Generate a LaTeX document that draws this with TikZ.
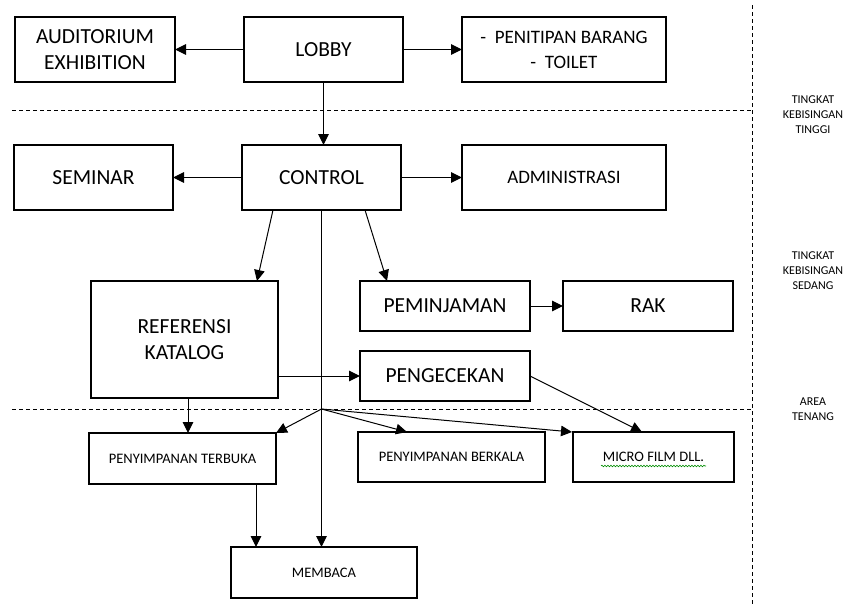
\documentclass[tikz,border=0pt]{standalone}
\usepackage{fontspec}
\setmainfont{Carlito}
\usetikzlibrary{arrows.meta,calc,decorations.pathmorphing}
\tikzset{
  box/.style={draw=black,line width=2pt,inner sep=0pt,outer sep=0pt,align=center,rectangle},
  bigtxt/.style={font=\fontsize{21.5}{25.5}\selectfont},
  midtxt/.style={font=\fontsize{19}{25}\selectfont},
  smalltxt/.style={font=\fontsize{14.5}{17}\selectfont},
  zonetxt/.style={font=\fontsize{12}{15}\selectfont,align=center,inner sep=0pt},
  arr/.style={line width=1pt,-{Triangle[length=11pt,width=10.5pt]}},
  zone/.style={line width=1pt,dash pattern=on 4pt off 3pt}
}
\begin{document}
\begin{tikzpicture}[x=1pt,y=-1pt]
\useasboundingbox (0,0) rectangle (847,605);
% zone separators
\coordinate (h1a) at (12,110);
\coordinate (h1b) at (752,110);
\coordinate (h2a) at (12,409);
\coordinate (h2b) at (752,409);
\coordinate (vta) at (752,5);
\coordinate (vtb) at (752,605);
\draw[zone] (h1a) -- (h1b);
\draw[zone] (h2a) -- (h2b);
\draw[zone] (vta) -- (vtb);
% zone labels
\node[zonetxt] (z1) at (813,115) {TINGKAT\\KEBISINGAN\\TINGGI};
\node[zonetxt] (z2) at (813,270.5) {TINGKAT\\KEBISINGAN\\SEDANG};
\node[zonetxt] (z3) at (813,409.5) {AREA\\TENANG};
% boxes
\node[box,bigtxt,minimum width=160,minimum height=65] (aud) at (95,49.5) {AUDITORIUM\\EXHIBITION};
\node[box,bigtxt,minimum width=159,minimum height=65] (lobby) at (323.5,49.5) {LOBBY};
\node[box,midtxt,minimum width=204,minimum height=65] (pen) at (564,49.5) {-\ \ PENITIPAN BARANG\\-\ \ TOILET};
\node[box,bigtxt,minimum width=159,minimum height=65] (sem) at (93.5,177.5) {SEMINAR};
\node[box,bigtxt,minimum width=159,minimum height=65] (control) at (321.5,177.5) {CONTROL};
\node[box,midtxt,minimum width=204,minimum height=65] (adm) at (564,177.5) {ADMINISTRASI};
\node[box,bigtxt,minimum width=187,minimum height=117] (ref) at (184.5,339.5) {REFERENSI\\KATALOG};
\node[box,bigtxt,minimum width=170,minimum height=50] (pem) at (445,306) {PEMINJAMAN};
\node[box,bigtxt,minimum width=170,minimum height=50] (rak) at (648,306) {RAK};
\node[box,bigtxt,minimum width=170,minimum height=50] (peng) at (445,376) {PENGECEKAN};
\node[box,smalltxt,minimum width=187,minimum height=51] (terb) at (182.5,458.5) {PENYIMPANAN TERBUKA};
\node[box,smalltxt,minimum width=187,minimum height=50] (berk) at (451.5,457) {PENYIMPANAN BERKALA};
\node[box,smalltxt,minimum width=161,minimum height=50] (micro) at (653.5,457) {MICRO FILM DLL.};
\node[box,smalltxt,minimum width=186,minimum height=51] (memb) at (324,572.5) {MEMBACA};
% spell-check squiggle under MICRO FILM DLL.
\coordinate (sqa) at (601,466);
\coordinate (sqb) at (706,466);
\draw[green!55!black,line width=0.6pt,decorate,decoration={snake,amplitude=0.8pt,segment length=3pt}] (sqa) -- (sqb);
% connectors
\coordinate (fan) at (321.5,409);
\draw[arr] (lobby.west) -- (aud.east);
\draw[arr] (lobby.east) -- (pen.west);
\draw[arr] (lobby.south) -- (lobby.south |- control.north);
\draw[arr] (control.west) -- (sem.east);
\draw[arr] (control.east) -- (adm.west);
\draw[arr] ([xshift=31]control.south west) -- ([xshift=166]ref.north west);
\draw[arr] ([xshift=123]control.south west) -- ([xshift=27]pem.north west);
\draw[arr] (control.south) -- (control.south |- memb.north);
\draw[arr] (fan) -- (terb.north east);
\draw[arr] (fan) -- ([xshift=49]berk.north west);
\draw[arr] (fan) -- ([xshift=-1]micro.north west);
\draw[arr] (pem.east) -- (rak.west);
\draw[arr] (ref.east |- peng.west) -- (peng.west);
\draw[arr] (peng.east) -- ([xshift=69]micro.north west);
\draw[arr] ([xshift=97]ref.south west) -- ([xshift=97]ref.south west |- terb.north);
\draw[arr] ([xshift=-20]terb.south east) -- ([xshift=-20]terb.south east |- memb.north);
\end{tikzpicture}
\end{document}
